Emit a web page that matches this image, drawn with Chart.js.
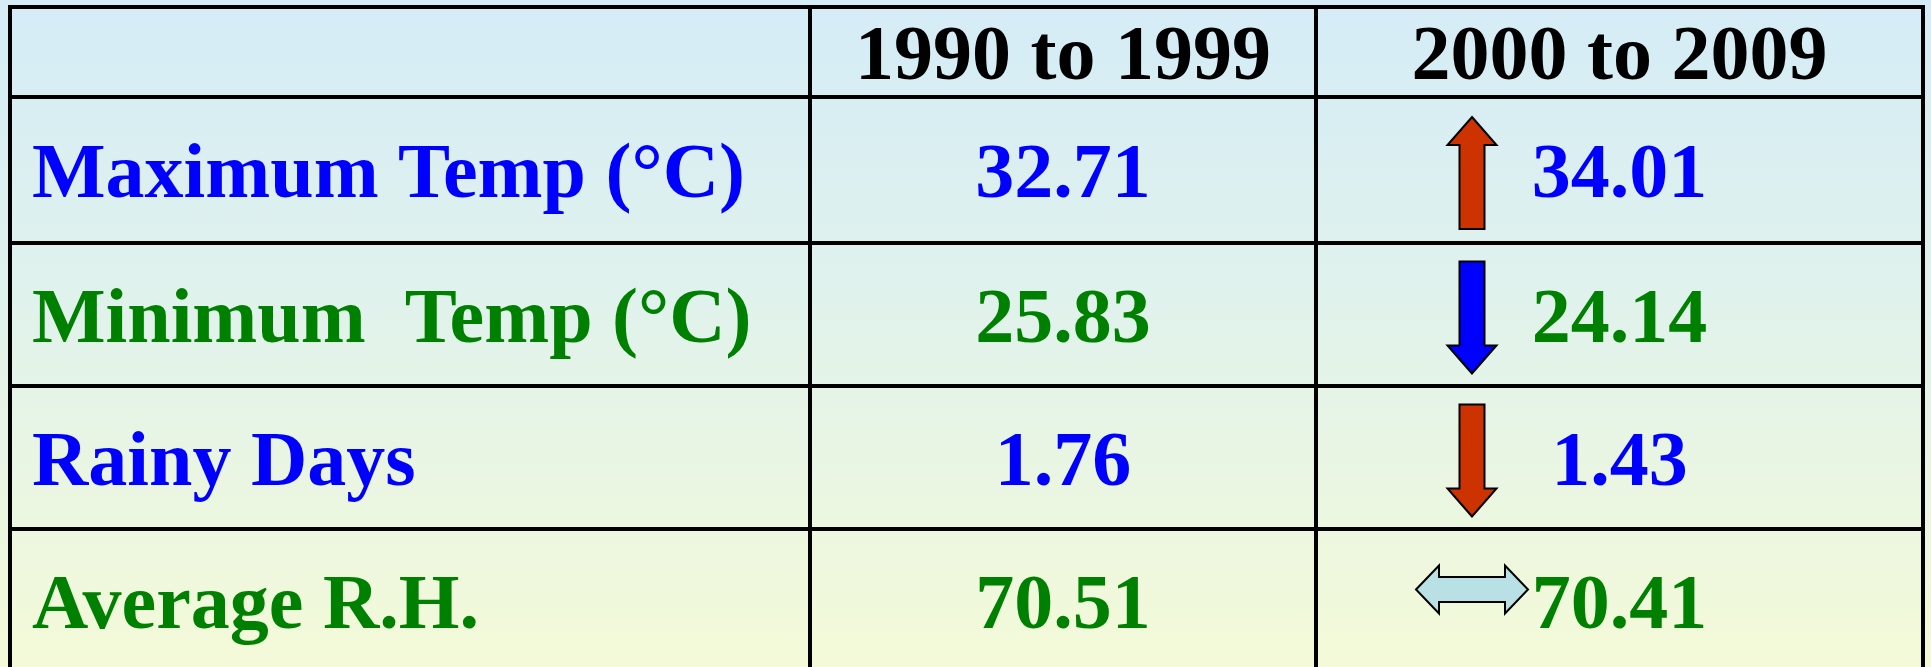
<!DOCTYPE html>
<html>
<head>
<meta charset="utf-8">
<script src="https://cdn.jsdelivr.net/npm/chart.js@4"></script>
<style>
  html, body { margin: 0; padding: 0; background: #fff; }
  #wrap { width: 1931px; height: 667px; }
</style>
</head>
<body>
<div id="wrap"><canvas id="table"></canvas></div>
<script>
const periods = ['1990 to 1999', '2000 to 2009'];
const parameters = ['Maximum Temp (°C)', 'Minimum  Temp (°C)', 'Rainy Days', 'Average R.H.'];
const values1990s = [32.71, 25.83, 1.76, 70.51];
const values2000s = [34.01, 24.14, 1.43, 70.41];
const trends = ['up', 'down', 'down', 'same'];
const trendColors = ['#cc3300', '#0000ff', '#cc3300', '#b9e0e5'];
const textColors = ['#0000ff', '#008000', '#0000ff', '#008000'];

// table layout, in axis units (x left->right, y top->down)
const colEdges = [10, 810, 1316, 1923];
const rowEdges = [7, 97, 243, 386, 529, 672];
const font = 'bold 78px "Liberation Serif", "Times New Roman", serif';

const drawArrow = (ctx, cx, cy, len, headLen, shaftW, headW, dir, color) => {
  ctx.save();
  ctx.translate(cx, cy);
  ctx.rotate({ up: 0, down: Math.PI }[dir] || 0);
  ctx.beginPath();
  const h = len / 2;
  if (dir === 'same') {
    ctx.moveTo(-h, 0);
    ctx.lineTo(-h + headLen, -headW / 2);
    ctx.lineTo(-h + headLen, -shaftW / 2);
    ctx.lineTo(h - headLen, -shaftW / 2);
    ctx.lineTo(h - headLen, -headW / 2);
    ctx.lineTo(h, 0);
    ctx.lineTo(h - headLen, headW / 2);
    ctx.lineTo(h - headLen, shaftW / 2);
    ctx.lineTo(-h + headLen, shaftW / 2);
    ctx.lineTo(-h + headLen, headW / 2);
  } else {
    ctx.moveTo(0, -h);
    ctx.lineTo(headW / 2, -h + headLen);
    ctx.lineTo(shaftW / 2, -h + headLen);
    ctx.lineTo(shaftW / 2, h);
    ctx.lineTo(-shaftW / 2, h);
    ctx.lineTo(-shaftW / 2, -h + headLen);
    ctx.lineTo(-headW / 2, -h + headLen);
  }
  ctx.closePath();
  ctx.fillStyle = color;
  ctx.fill();
  ctx.lineWidth = 2;
  ctx.strokeStyle = '#000';
  ctx.stroke();
  ctx.restore();
};

const tablePlugin = {
  id: 'tablePlugin',
  beforeDraw(chart) {
    const { ctx, scales: { y } } = chart;
    const grad = ctx.createLinearGradient(0, y.getPixelForValue(0), 0, y.getPixelForValue(667));
    grad.addColorStop(0, '#d5ecf7');
    grad.addColorStop(0.45, '#e0f2ec');
    grad.addColorStop(1, '#f4fad8');
    ctx.save();
    ctx.fillStyle = grad;
    ctx.fillRect(0, 0, chart.width, chart.height);
    ctx.restore();
  },
  afterDraw(chart) {
    const { ctx, scales: { x, y } } = chart;
    const px = (v) => x.getPixelForValue(v);
    const py = (v) => y.getPixelForValue(v);

    // grid lines
    ctx.save();
    ctx.strokeStyle = '#000';
    ctx.lineWidth = 4;
    const top = py(rowEdges[0]);
    const bottom = py(rowEdges[rowEdges.length - 1]);
    colEdges.forEach((c) => {
      ctx.beginPath();
      ctx.moveTo(px(c), top - 2);
      ctx.lineTo(px(c), bottom);
      ctx.stroke();
    });
    rowEdges.forEach((r) => {
      ctx.beginPath();
      ctx.moveTo(px(colEdges[0]) - 2, py(r));
      ctx.lineTo(px(colEdges[colEdges.length - 1]) + 2, py(r));
      ctx.stroke();
    });

    ctx.font = font;
    ctx.textBaseline = 'alphabetic';
    const baseline = (i) => (py(rowEdges[i]) + py(rowEdges[i + 1])) / 2 + 27;
    const colMid = (j) => (px(colEdges[j]) + px(colEdges[j + 1])) / 2;

    // header
    ctx.fillStyle = '#000';
    ctx.textAlign = 'center';
    periods.forEach((p, j) => ctx.fillText(p, colMid(j + 1), baseline(0)));

    // rows
    parameters.forEach((name, i) => {
      const yb = baseline(i + 1);
      ctx.fillStyle = textColors[i];
      ctx.textAlign = 'left';
      ctx.fillText(name, px(colEdges[0] + 22), yb);
      ctx.textAlign = 'center';
      ctx.fillText(values1990s[i].toFixed(2), colMid(1), yb);
      ctx.fillText(values2000s[i].toFixed(2), colMid(2), yb);

      const rowMid = (py(rowEdges[i + 1]) + py(rowEdges[i + 2])) / 2;
      const ax = px(colEdges[2] + 156);
      if (trends[i] === 'same') {
        drawArrow(ctx, ax, rowMid - 11, 112, 23, 25, 48, 'same', trendColors[i]);
      } else {
        drawArrow(ctx, ax, rowMid + 3, 112, 28, 25, 49, trends[i], trendColors[i]);
      }
    });
    ctx.restore();
  },
};

const chart = new Chart(document.getElementById('table'), {
  type: 'scatter',
  data: { datasets: [] },
  options: {
    responsive: true,
    maintainAspectRatio: false,
    animation: false,
    layout: { padding: 0 },
    plugins: { legend: { display: false }, tooltip: { enabled: false } },
    scales: {
      x: { type: 'linear', min: 0, max: 1931, display: false },
      y: { type: 'linear', min: 0, max: 667, reverse: true, display: false },
    },
  },
  plugins: [tablePlugin],
});
</script>
</body>
</html>
